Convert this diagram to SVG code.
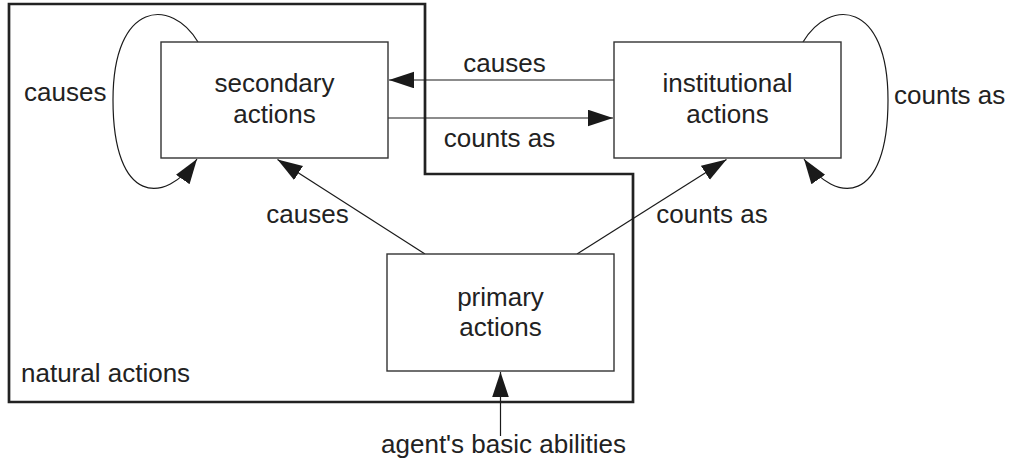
<svg xmlns="http://www.w3.org/2000/svg" width="1011" height="460" viewBox="0 0 1011 460">
  <defs>
    <marker id="ah" markerUnits="userSpaceOnUse" markerWidth="26" markerHeight="18" refX="25" refY="8.3" orient="auto">
      <path d="M0,0 L25,8.3 L0,16.6 z" fill="#1a1a1a"/>
    </marker>
    <style>
      .box { fill: #fff; stroke: #333; stroke-width: 1.4; }
      .lbl { font-family: "Liberation Sans", Arial, sans-serif; font-size: 26px; fill: #222; }
      .mid { text-anchor: middle; }
      .con { fill: none; stroke: #1a1a1a; stroke-width: 1.2; }
      .region { fill: none; stroke: #222; stroke-width: 2.7; }
    </style>
  </defs>
  <rect width="1011" height="460" fill="#fff"/>

  <g id="natural-actions">
    <path class="region" d="M9,4 L425,4 L425,174 L633,174 L633,402 L9,402 Z"/>
    <text class="lbl" x="21" y="382">natural actions</text>
  </g>

  <g id="connectors">
    <path class="con" d="M614,80 L389,80" marker-end="url(#ah)"/>
    <path class="con" d="M388,118 L613,118" marker-end="url(#ah)"/>
    <path class="con" d="M425,254 L277.5,159.5" marker-end="url(#ah)"/>
    <path class="con" d="M577,254 L726.5,159.5" marker-end="url(#ah)"/>
    <path class="con" d="M500.5,436 L500.5,372" marker-end="url(#ah)"/>
    <path class="con" d="M198,42 C172,-2 113,0 113,100 C113,205 165,205 197,159" marker-end="url(#ah)"/>
    <path class="con" d="M803,42 C829,-2 888,0 888,100 C888,205 836,205 804,159" marker-end="url(#ah)"/>
    <text class="lbl mid" x="504.5" y="72">causes</text>
    <text class="lbl mid" x="499.5" y="147">counts as</text>
    <text class="lbl" x="24" y="101">causes</text>
    <text class="lbl" x="894" y="104">counts as</text>
    <text class="lbl mid" x="307.5" y="223">causes</text>
    <text class="lbl mid" x="712" y="223">counts as</text>
    <text class="lbl mid" x="503.5" y="453">agent's basic abilities</text>
  </g>

  <g id="secondary-actions">
    <rect class="box" x="161" y="42" width="227" height="116"/>
    <text class="lbl mid" x="274.5" y="92">secondary</text>
    <text class="lbl mid" x="274.5" y="123">actions</text>
  </g>

  <g id="institutional-actions">
    <rect class="box" x="614" y="42" width="227" height="116"/>
    <text class="lbl mid" x="727.5" y="92">institutional</text>
    <text class="lbl mid" x="727.5" y="123">actions</text>
  </g>

  <g id="primary-actions">
    <rect class="box" x="387" y="254" width="227" height="117"/>
    <text class="lbl mid" x="500.5" y="306">primary</text>
    <text class="lbl mid" x="500.5" y="336">actions</text>
  </g>
</svg>
